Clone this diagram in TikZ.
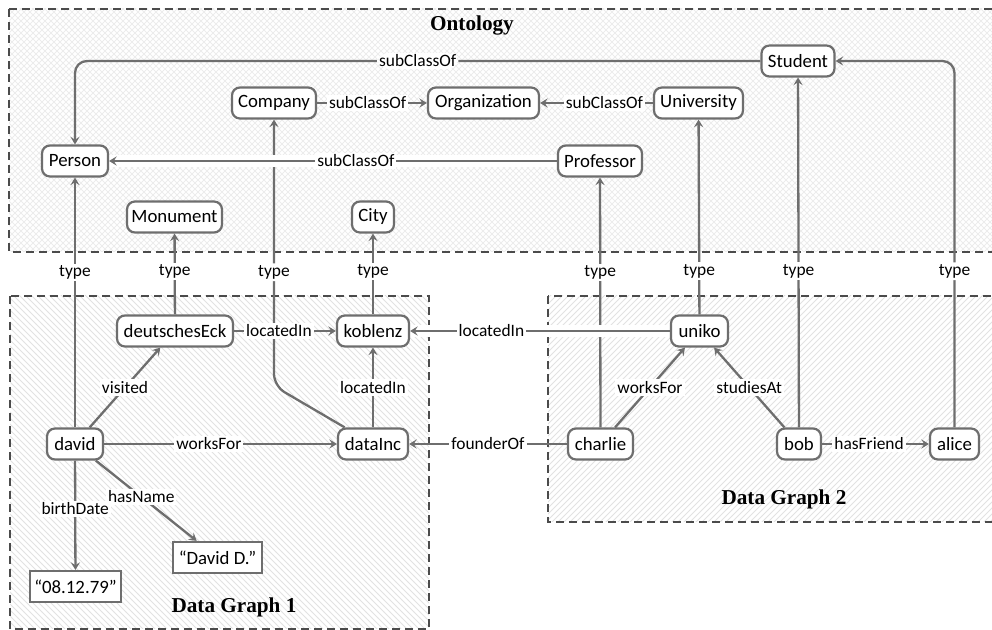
\documentclass[tikz,border=0pt]{standalone}
\usepackage{fontspec}
\setmainfont{Carlito}
\newfontfamily\titlefont{Liberation Serif}
\usetikzlibrary{arrows.meta,patterns}
\pgfdeclarelayer{bg}
\pgfdeclarelayer{edges}
\pgfsetlayers{bg,edges,main}
\definecolor{edgec}{RGB}{110,110,110}
\definecolor{boxc}{RGB}{75,75,75}
\definecolor{hatchc}{RGB}{226,226,226}
\definecolor{xhatchc}{RGB}{236,236,236}
\begin{document}
\begin{tikzpicture}[x=0.5pt,y=-0.5pt,
  nd/.style={draw=edgec, line width=1.1pt, fill=white, rounded corners=4pt,
    minimum height=15.5pt, inner xsep=2pt, inner ysep=0pt,
    font=\fontsize{9.4}{11}\selectfont, text=black},
  lit/.style={nd, rounded corners=0pt},
  edge/.style={draw=edgec, line width=1.15pt,
    -{Stealth[length=3.8pt,width=4.6pt,inset=1.5pt]}},
  lbl/.style={fill=white, inner sep=1pt, font=\fontsize{8.7}{10}\selectfont, text=black},
  halo/.style={preaction={draw=white, line width=6pt, arrows=-}},
  frame/.style={draw=boxc, line width=0.6pt, dash pattern=on 4pt off 2.5pt},
  boxtitle/.style={font=\titlefont\bfseries\fontsize{10.6}{12}\selectfont, text=black}
]
\useasboundingbox (0,0) rectangle (992,630);

% ---------- nodes ----------
\node[nd, minimum width=36.5pt] (Student) at (798,61) {Student};
\node[nd, minimum width=42pt] (Company) at (274,103) {Company};
\node[nd, minimum width=55.5pt] (Organization) at (483.5,103) {Organization};
\node[nd, minimum width=44.5pt] (University) at (698.5,103) {University};
\node[nd, minimum width=33pt] (Person) at (75,161) {Person};
\node[nd, minimum width=42pt] (Professor) at (600,161) {Professor};
\node[nd, minimum width=47.5pt] (Monument) at (174.5,217) {Monument};
\node[nd, minimum width=21pt] (City) at (373,217) {City};
\node[nd, minimum width=58pt] (deutschesEck) at (175,331) {deutschesEck};
\node[nd, minimum width=36pt] (koblenz) at (373,331) {koblenz};
\node[nd, minimum width=28.5pt] (uniko) at (699.5,331) {uniko};
\node[nd, minimum width=28pt] (david) at (75,444) {david};
\node[nd, minimum width=35pt] (dataInc) at (373,444) {dataInc};
\node[nd, minimum width=32.5pt] (charlie) at (600.5,444) {charlie};
\node[nd, minimum width=22pt] (bob) at (799,444) {bob};
\node[nd, minimum width=24.5pt] (alice) at (954.5,444) {alice};
\node[lit, minimum width=45.5pt] (birth) at (75.5,586.5) {“08.12.79”};
\node[lit, minimum width=44.5pt] (name) at (217.5,557.5) {“David D.”};

\node[boxtitle] (tOnt) at (472,25) {Ontology};
\node[boxtitle] (tDG1) at (234,607) {Data Graph 1};
\node[boxtitle] (tDG2) at (784,499) {Data Graph 2};

\coordinate (dcbend) at (274,386);

% ---------- background boxes ----------
\begin{pgfonlayer}{bg}
  \fill[pattern=north east lines, pattern color=xhatchc] (9,9) rectangle (1005,252);
  \fill[pattern=north west lines, pattern color=xhatchc] (9,9) rectangle (1005,252);
  \draw[frame] (9,9) rectangle (1005,252);
  \fill[pattern=north west lines, pattern color=hatchc] (10,296) rectangle (429,629);
  \draw[frame] (10,296) rectangle (429,629);
  \fill[pattern=north east lines, pattern color=hatchc] (548,296) rectangle (1005,522);
  \draw[frame] (548,296) rectangle (1005,522);
\end{pgfonlayer}

% ---------- edges ----------
\begin{pgfonlayer}{edges}
  \draw[edge, rounded corners=6pt] (Student) -| node[lbl, pos=0.25] {subClassOf} (Person);
  \draw[edge] (Company) -- node[lbl, pos=0.46] {subClassOf} (Organization);
  \draw[edge] (University) -- node[lbl, pos=0.43] {subClassOf} (Organization);

  \draw[edge] (david) -- node[lbl, pos=0.62] {type} (Person);
  \draw[edge] (deutschesEck) -- node[lbl, pos=0.53] {type} (Monument);
  \draw[edge] (koblenz) -- node[lbl, pos=0.53] {type} (City);
  \draw[edge, rounded corners=6pt] (dataInc) -- (dcbend) -- node[lbl, pos=0.427] {type} (Company);
  \draw[edge] (charlie) -- node[lbl, pos=0.62] {type} (Professor);
  \draw[edge] (uniko) -- node[lbl, pos=0.223] {type} (University);
  \draw[edge] (bob) -- node[lbl, pos=0.446] {type} (Student);
  \draw[edge, rounded corners=6pt] (alice) |- node[lbl, pos=0.213] {type} (Student);

  \draw[edge] (deutschesEck) -- node[lbl, pos=0.44] {locatedIn} (koblenz);
  \draw[edge] (dataInc) -- node[lbl, pos=0.5] {locatedIn} (koblenz);
  \draw[edge] (david) -- node[lbl, pos=0.5] {visited} (deutschesEck);
  \draw[edge] (david) -- node[lbl, pos=0.45] {worksFor} (dataInc);
  \draw[edge] (charlie) -- node[lbl, pos=0.5] {founderOf} (dataInc);
  \draw[edge] (charlie) -- node[lbl, pos=0.5] {worksFor} (uniko);
  \draw[edge] (bob) -- node[lbl, pos=0.5] {studiesAt} (uniko);
  \draw[edge] (bob) -- node[lbl, pos=0.44] {hasFriend} (alice);
  \draw[edge] (david) -- node[lbl, pos=0.45] {hasName} (name);
  \draw[edge] (david) -- node[lbl, pos=0.44] {birthDate} (birth);

  \draw[edge, halo] (Professor) -- node[lbl, pos=0.449] {subClassOf} (Person);
  \draw[edge, halo] (uniko) -- node[lbl, pos=0.687] {locatedIn} (koblenz);
\end{pgfonlayer}
\end{tikzpicture}
\end{document}
